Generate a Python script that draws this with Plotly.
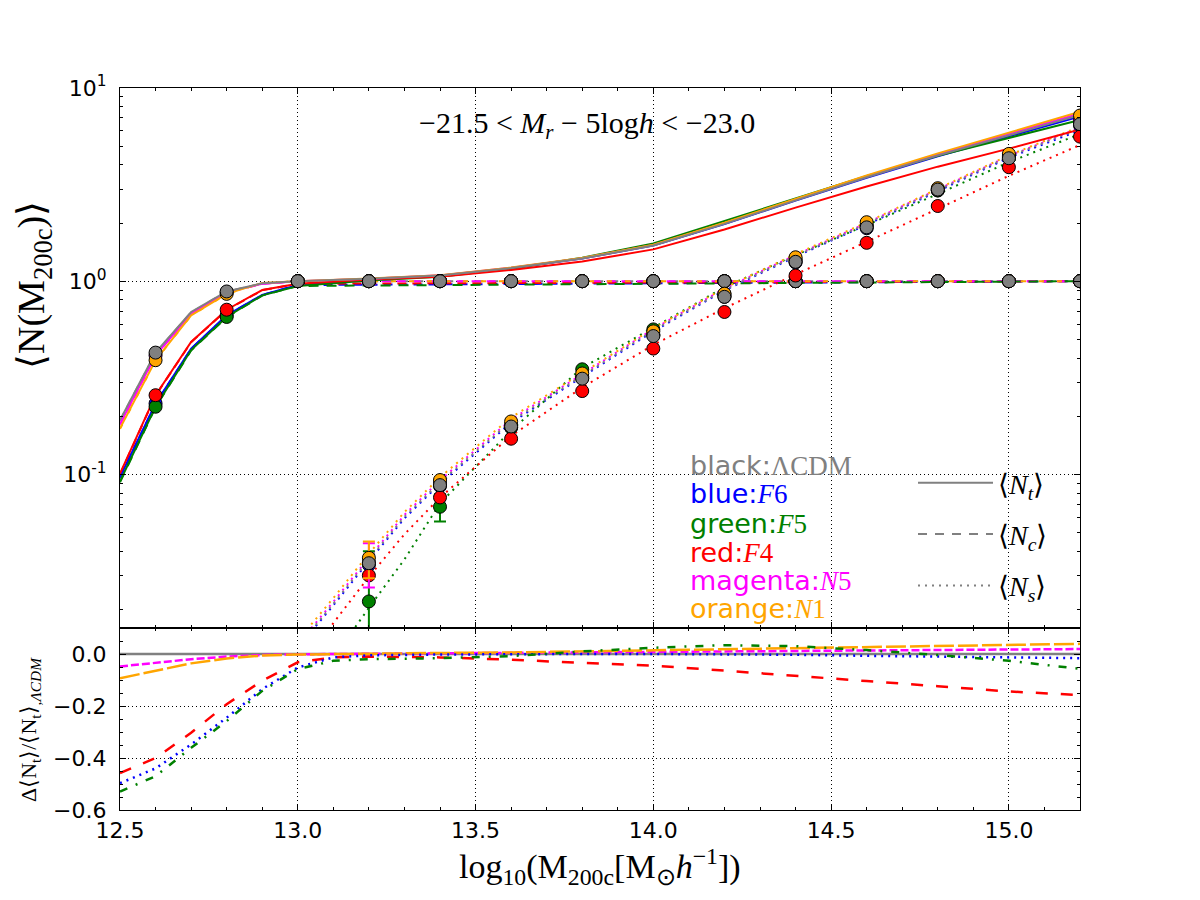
import plotly.graph_objects as go

# ---------------- data ----------------
MODELS = ["F6", "F5", "F4", "N5", "N1", "LCDM"]
COLORS = {"LCDM": "#808080", "F6": "#0000ff", "F5": "#008000",
          "F4": "#ff0000", "N5": "#ff00ff", "N1": "#ffa500"}

# total occupation <N_t> (solid lines)
X_T = [12.5, 12.6, 12.7, 12.8, 12.9, 13.0, 13.2, 13.4, 13.6, 13.8, 14.0,
       14.2, 14.4, 14.6, 14.8, 15.0, 15.2]
NT = {
    "LCDM": [0.191, 0.427, 0.693, 0.885, 0.975, 1.00, 1.03, 1.07, 1.17, 1.31, 1.53, 1.98, 2.62, 3.45, 4.47, 5.67, 7.25],
    "F6":   [0.097, 0.233, 0.448, 0.666, 0.850, 0.955, 1.025, 1.068, 1.17, 1.31, 1.53, 1.978, 2.612, 3.426, 4.425, 5.596, 7.134],
    "F5":   [0.092, 0.224, 0.440, 0.653, 0.845, 0.945, 1.009, 1.053, 1.161, 1.323, 1.567, 2.047, 2.699, 3.502, 4.452, 5.523, 6.837],
    "F4":   [0.101, 0.257, 0.485, 0.712, 0.900, 0.970, 1.020, 1.056, 1.144, 1.265, 1.461, 1.853, 2.403, 3.091, 3.916, 4.854, 6.105],
    "N5":   [0.182, 0.413, 0.679, 0.876, 0.971, 1.00, 1.031, 1.072, 1.175, 1.316, 1.540, 1.998, 2.649, 3.495, 4.540, 5.770, 7.390],
    "N1":   [0.173, 0.390, 0.666, 0.860, 0.980, 1.00, 1.032, 1.074, 1.177, 1.318, 1.545, 2.006, 2.667, 3.526, 4.586, 5.850, 7.530],
}

# central occupation <N_c> (dashed lines)
X_C = [12.5, 12.6, 12.7, 12.8, 12.9, 13.0, 15.2]
NC = {
    "LCDM": [0.190, 0.425, 0.690, 0.882, 0.972, 1.0, 1.0],
    "F6":   [0.096, 0.232, 0.446, 0.664, 0.848, 0.955, 1.0],
    "F5":   [0.091, 0.223, 0.438, 0.651, 0.843, 0.945, 1.0],
    "F4":   [0.100, 0.256, 0.483, 0.710, 0.898, 0.970, 1.0],
    "N5":   [0.181, 0.412, 0.677, 0.874, 0.969, 1.0, 1.0],
    "N1":   [0.172, 0.389, 0.664, 0.858, 0.978, 1.0, 1.0],
}

# satellite occupation <N_s> (dotted lines)
X_S = [13.0, 13.1, 13.2, 13.3, 13.4, 13.6, 13.8, 14.0, 14.2, 14.4, 14.6, 14.8, 15.0, 15.2]
NS = {
    "LCDM": [0.0129, 0.0214, 0.0363, 0.0603, 0.0912, 0.188, 0.324, 0.556, 0.902, 1.349, 1.982, 2.944, 4.416, 6.166],
    "F6":   [0.0127, 0.0210, 0.0356, 0.0592, 0.0895, 0.185, 0.320, 0.550, 0.895, 1.340, 1.960, 2.910, 4.360, 6.050],
    "F5":   [0.0063, 0.0112, 0.0204, 0.0363, 0.0708, 0.169, 0.356, 0.575, 0.930, 1.365, 1.950, 2.830, 4.130, 5.780],
    "F4":   [0.0089, 0.0170, 0.0295, 0.0490, 0.0759, 0.158, 0.282, 0.468, 0.724, 1.084, 1.600, 2.370, 3.510, 5.070],
    "N5":   [0.0132, 0.0219, 0.0371, 0.0617, 0.0933, 0.192, 0.330, 0.565, 0.915, 1.365, 2.000, 2.970, 4.450, 6.230],
    "N1":   [0.0138, 0.0229, 0.0389, 0.0638, 0.0966, 0.197, 0.335, 0.569, 0.923, 1.380, 2.018, 3.000, 4.487, 6.310],
}

# measured central occupation (points)
X_CP = [12.6, 12.8, 13.0, 13.2, 13.4, 13.6, 13.8, 14.0, 14.2, 14.4, 14.6, 14.8, 15.0, 15.2]
NC_PTS = {
    "LCDM": [0.427, 0.885, 1, 1, 1, 1, 1, 1, 1, 1, 1, 1, 1, 1],
    "F6":   [0.233, 0.666, 1, 1, 1, 1, 1, 1, 1, 1, 1, 1, 1, 1],
    "F5":   [0.224, 0.653, 1, 1, 1, 1, 1, 1, 1, 1, 1, 1, 1, 1],
    "F4":   [0.257, 0.712, 1, 1, 1, 1, 1, 1, 1, 1, 1, 1, 1, 1],
    "N5":   [0.413, 0.876, 1, 1, 1, 1, 1, 1, 1, 1, 1, 1, 1, 1],
    "N1":   [0.390, 0.860, 1, 1, 1, 1, 1, 1, 1, 1, 1, 1, 1, 1],
}

# measured satellite occupation (points) and their errors
X_SP = [13.2, 13.4, 13.6, 13.8, 14.0, 14.2, 14.4, 14.6, 14.8, 15.0, 15.2]
NS_PTS = {
    "LCDM": [0.0347, 0.088, 0.177, 0.313, 0.520, 0.830, 1.26, 1.90, 2.98, 4.33, 6.5],
    "F6":   [0.0340, 0.087, 0.175, 0.315, 0.525, 0.830, 1.25, 1.88, 2.95, 4.35, 6.4],
    "F5":   [0.0220, 0.068, 0.175, 0.350, 0.563, 0.860, 1.30, 1.95, 2.95, 4.40, 6.6],
    "F4":   [0.0300, 0.076, 0.153, 0.270, 0.448, 0.693, 1.07, 1.58, 2.45, 3.89, 5.6],
    "N5":   [0.0350, 0.090, 0.180, 0.320, 0.530, 0.840, 1.27, 1.92, 2.99, 4.45, 6.8],
    "N1":   [0.0370, 0.0935, 0.188, 0.333, 0.550, 0.862, 1.33, 2.02, 3.03, 4.56, 7.2],
}
NS_ERR = {
    "LCDM": [0, 0, 0, 0, 0, 0, 0, 0, 0, 0, 0],
    "F6":   [0, 0, 0, 0, 0, 0, 0, 0, 0, 0, 0],
    "F5":   [0.018, 0.011, 0, 0, 0, 0, 0, 0, 0, 0, 0],
    "F4":   [0, 0, 0, 0, 0, 0, 0, 0, 0, 0, 0],
    "N5":   [0.009, 0, 0, 0, 0, 0, 0, 0, 0, 0, 0],
    "N1":   [0.008, 0, 0, 0, 0, 0, 0, 0, 0, 0, 0],
}

# relative difference of <N_t> w.r.t. LCDM (bottom panel)
X_R = [12.5, 12.6, 12.7, 12.8, 12.9, 13.0, 13.1, 13.2, 13.4, 13.6, 13.8, 14.0,
       14.2, 14.4, 14.6, 14.8, 15.0, 15.2]
RATIO = {
    "LCDM": [0, 0, 0, 0, 0, 0, 0, 0, 0, 0, 0, 0, 0, 0, 0, 0, 0, 0],
    "F6": [-0.497, -0.44, -0.348, -0.245, -0.135, -0.052, -0.013, -0.005, -0.002, 0.0, 0.0, 0.0, -0.001, -0.003, -0.007, -0.010, -0.013, -0.016],
    "F5": [-0.529, -0.47, -0.361, -0.258, -0.142, -0.058, -0.026, -0.020, -0.016, -0.008, 0.010, 0.024, 0.034, 0.030, 0.015, -0.004, -0.026, -0.057],
    "F4": [-0.458, -0.40, -0.303, -0.193, -0.103, -0.032, -0.013, -0.010, -0.013, -0.022, -0.034, -0.045, -0.064, -0.083, -0.104, -0.124, -0.144, -0.158],
    "N5": [-0.048, -0.033, -0.020, -0.010, -0.004, -0.001, 0.0, 0.001, 0.002, 0.004, 0.006, 0.007, 0.009, 0.011, 0.013, 0.015, 0.017, 0.019],
    "N1": [-0.093, -0.064, -0.036, -0.017, -0.006, -0.002, 0.0, 0.002, 0.004, 0.006, 0.010, 0.013, 0.018, 0.022, 0.026, 0.030, 0.034, 0.039],
}
RATIO_DASH = {"LCDM": "solid", "F6": "2px,5px", "F5": "8px,9px,2px,9px",
              "F4": "12px,13px", "N5": "8px,3px", "N1": "20px,4px"}
NC_DASH = {"LCDM": "9px,6px", "F6": "9px,6px", "F5": "10px,8px",
           "F4": "9px,6px", "N5": "9px,6px", "N1": "5px,13px"}

LEGEND_TXT = {
    "LCDM": ("black:", "ΛCDM"),
    "F6": ("blue:", "<i>F</i>6"),
    "F5": ("green:", "<i>F</i>5"),
    "F4": ("red:", "<i>F</i>4"),
    "N5": ("magenta:", "<i>N</i>5"),
    "N1": ("orange:", "<i>N</i>1"),
}
LEGEND_ORDER = ["LCDM", "F6", "F5", "F4", "N5", "N1"]

# minor tick positions of the log axis (2..9 in each decade)
LOG_MINOR = [0.02, 0.03, 0.04, 0.05, 0.06, 0.07, 0.08, 0.09,
             0.2, 0.3, 0.4, 0.5, 0.6, 0.7, 0.8, 0.9,
             2, 3, 4, 5, 6, 7, 8, 9]

SERIF = "Liberation Serif"
SANS = "DejaVu Sans"

fig = go.Figure()

# ---------- top panel: lines ----------
for m in ["LCDM", "F6", "F4", "N5", "F5", "N1"]:
    fig.add_trace(go.Scatter(x=X_C, y=NC[m], mode="lines", showlegend=False,
                             line=dict(color=COLORS[m], width=2, dash=NC_DASH[m]),
                             xaxis="x", yaxis="y", hoverinfo="skip"))
for m in MODELS:
    fig.add_trace(go.Scatter(x=X_S, y=NS[m], mode="lines", showlegend=False,
                             line=dict(color=COLORS[m], width=2, dash="2px,5px"),
                             xaxis="x", yaxis="y", hoverinfo="skip"))
for m in MODELS:
    fig.add_trace(go.Scatter(x=X_T, y=NT[m], mode="lines", showlegend=False,
                             line=dict(color=COLORS[m], width=2),
                             xaxis="x", yaxis="y", hoverinfo="skip"))

# ---------- top panel: points ----------
for m in MODELS:
    fig.add_trace(go.Scatter(x=X_CP, y=NC_PTS[m], mode="markers", showlegend=False,
                             marker=dict(color=COLORS[m], size=13,
                                         line=dict(color="black", width=1)),
                             xaxis="x", yaxis="y", hoverinfo="skip"))
for m in MODELS:
    fig.add_trace(go.Scatter(x=X_SP, y=NS_PTS[m], mode="markers", showlegend=False,
                             marker=dict(color=COLORS[m], size=13,
                                         line=dict(color="black", width=1)),
                             error_y=dict(type="data", array=NS_ERR[m], visible=True,
                                          color=COLORS[m], thickness=2, width=6),
                             xaxis="x", yaxis="y", hoverinfo="skip"))

# ---------- bottom panel ----------
for m in ["LCDM", "N5", "N1", "F4", "F6", "F5"]:
    fig.add_trace(go.Scatter(x=X_R, y=RATIO[m], mode="lines", showlegend=False,
                             line=dict(color=COLORS[m], width=2.5, dash=RATIO_DASH[m]),
                             xaxis="x2", yaxis="y2", hoverinfo="skip"))

# ---------- line-style legend ----------
STYLE_ITEMS = [("solid", "⟨<i>N</i><sub><i>t</i></sub>⟩"),
               ("9px,8px", "⟨<i>N</i><sub><i>c</i></sub>⟩"),
               ("2px,5px", "⟨<i>N</i><sub><i>s</i></sub>⟩")]
for i, (d, name) in enumerate(STYLE_ITEMS):
    fig.add_trace(go.Scatter(x=[None], y=[None], mode="lines", name=name,
                             legendgroup=f"g{i}",
                             line=dict(color="#808080", width=2, dash=d),
                             xaxis="x", yaxis="y"))

# ---------- annotations ----------
P0, PH = 810.0, 722.0   # plot bottom (px) and plot height (px)
def py(px):
    return (P0 - px) / PH
def pxx(px):
    return (px - 120.0) / 960.0

def note(text, x, y, size, family, color="black", angle=0, xanchor="center"):
    return dict(text=text, x=pxx(x), y=py(y), xref="paper", yref="paper",
                xanchor=xanchor, yanchor="middle", showarrow=False, textangle=angle,
                font=dict(family=family, size=size, color=color))

ann = [note("−21.5 &lt; <i>M</i><sub><i>r</i></sub> − 5log<i>h</i> &lt; −23.0",
            587, 125, 30, SERIF)]
leg_y = [465, 494, 523, 552, 580, 608]
for m, yy in zip(LEGEND_ORDER, leg_y):
    a, b = LEGEND_TXT[m]
    ann.append(note(f'{a}<span style="font-family:{SERIF}">{b}</span>',
                    688, yy, 27, SANS, COLORS[m], xanchor="left"))
ann.append(note("log<sub>10</sub>(M<sub>200c</sub>[M<sub>⊙</sub><i>h</i><sup>−1</sup>])",
                600, 866, 34, SERIF))
ann.append(note("⟨N(M<sub>200c</sub>)⟩", 34, 285, 38, SERIF, angle=-90))
ann.append(note("Δ⟨N<sub>t</sub>⟩/⟨N<sub>t</sub>⟩<sub>,<i>ΛCDM</i></sub>", 30, 730, 22, SERIF, angle=-90))

common_x = dict(range=[12.5, 15.2], tick0=12.5, dtick=0.5, ticks="inside", ticklen=6,
                tickcolor="black", tickwidth=1,
                minor=dict(ticks="inside", dtick=0.1, tick0=12.5, ticklen=3,
                           tickcolor="black", showgrid=False),
                showline=True, linecolor="black", linewidth=1.2, mirror="allticks",
                showgrid=True, gridcolor="black", griddash="1px,3px", gridwidth=1,
                zeroline=False)

DOM = 182.0 / 722.0
fig.update_layout(
    width=1200, height=900,
    margin=dict(l=120, r=120, t=88, b=90),
    paper_bgcolor="white", plot_bgcolor="white",
    font=dict(family=SANS, size=22, color="black"),
    showlegend=True,
    legend=dict(x=pxx(913), y=py(458), xanchor="left", yanchor="top",
                bgcolor="rgba(0,0,0,0)", font=dict(family=SERIF, size=28, color="black"),
                tracegroupgap=12, itemwidth=75, traceorder="grouped"),
    xaxis=dict(domain=[0, 1], anchor="y", showticklabels=False, **common_x),
    xaxis2=dict(domain=[0, 1], anchor="y2", matches="x", showticklabels=True,
                tickformat=".1f", tickfont=dict(size=22), ticklabelstandoff=0, **common_x),
    yaxis=dict(domain=[DOM, 1], anchor="x", type="log", range=[-1.795, 1.0],
               tickvals=[0.1, 1, 10], ticktext=["10<sup>-1</sup>", "10<sup>0</sup>", "10<sup>1</sup>"],
               ticks="inside", ticklen=6, tickcolor="black",
               minor=dict(ticks="inside", tickmode="array", tickvals=LOG_MINOR, ticklen=3,
                          tickcolor="black", showgrid=False),
               showline=True, linecolor="black", linewidth=1.2, mirror="allticks",
               showgrid=True, gridcolor="black", griddash="1px,3px", gridwidth=1,
               zeroline=False, tickfont=dict(size=22), ticklabelstandoff=8),
    yaxis2=dict(domain=[0, DOM], anchor="x2", range=[-0.6, 0.1],
                tickvals=[-0.6, -0.4, -0.2, 0.0], ticktext=["−0.6", "−0.4", "−0.2", "0.0"],
                ticks="inside", ticklen=6, tickcolor="black",
                minor=dict(ticks="inside", dtick=0.05, tick0=0, ticklen=3, tickcolor="black", showgrid=False),
                showline=True, linecolor="black", linewidth=1.2, mirror="allticks",
                showgrid=True, gridcolor="black", griddash="1px,3px", gridwidth=1,
                zeroline=False, tickfont=dict(size=22), ticklabelstandoff=8),
    annotations=ann,
)

fig.write_html("out.html")
